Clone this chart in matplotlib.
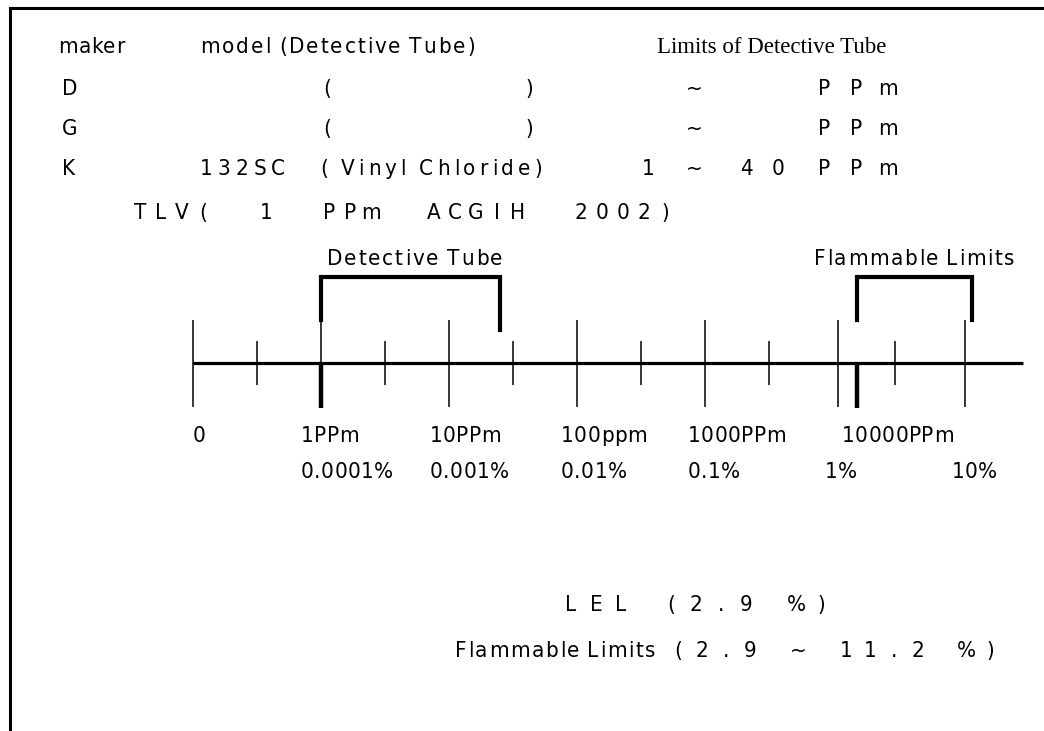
import matplotlib
matplotlib.use("Agg")
import matplotlib.pyplot as plt
from matplotlib.lines import Line2D

matplotlib.rcParams['font.family'] = ['DejaVu Sans']
matplotlib.rcParams['font.stretch'] = 'condensed'
matplotlib.rcParams['font.size'] = 16

W, H = 1044, 731
SPACE = 5  # px given to a blank inside spread-out text

# scale positions, log10(ppm); "0" is drawn one decade below 1 ppm
majorTicks = [-1.0, 0.0, 1.0, 2.0, 3.0, 4.04, 5.03]
halfTicks = [-0.5, 0.5, 1.5, 2.5, 3.5, 4.49]
scaleEnd = 5.49
ppmLabels = ["0", "1PPm", "10PPm", "100ppm", "1000PPm", "10000PPm"]
percentLabels = ["0.0001%", "0.001%", "0.01%", "0.1%", "1%", "10%"]
tlv = 0.0
lel = 4.19
detectiveRange = (0.0, 1.4)
flammableRange = (4.19, 5.09)

# tick label layout: pixel offset from the tick and pixel width of each label
ppmDx = [0, -20, -19, -16, -17, 4]
ppmWidth = [10, 51, 63, 73, 87, 96]
percentDx = [-20, -19, -16, -17, -13, -13]
percentWidth = [87, 74, 58, 46, 22, 36]

fig = plt.figure(figsize=(W / 100, H / 100), dpi=100)
renderer = fig.canvas.get_renderer()


def figText(x, y, s, ha='left', **kw):
    return fig.text(x / W, 1 - y / H, s, va='baseline', ha=ha, **kw)


def spread(x0, x1, y, s, **kw):
    # letter-spaced text running from x0 to about x1 (pixels)
    arts, widths = [], []
    for ch in s:
        if ch == " ":
            arts.append(None)
            widths.append(SPACE)
        else:
            t = figText(0, y, ch, **kw)
            arts.append(t)
            widths.append(t.get_window_extent(renderer).width)
    gap = max((x1 - x0 - sum(widths)) / max(len(s) - 1, 1), 0.5)
    x = x0
    for t, w in zip(arts, widths):
        if t is not None:
            t.set_x(x / W)
        x += w + gap


def cells(x0, y, s, pitch):
    # spaced-out text: one character per cell
    for i, ch in enumerate(s):
        if ch != " ":
            figText(x0 + i * pitch, y, ch, ha='center')


ax = fig.add_axes([0, 0, 1, 1])
ax.set_xlim(-320.7 / 128, (W - 320.7) / 128)
ax.set_ylim(H, 0)
ax.axis('off')

# frame (top and left only)
fig.add_artist(Line2D([10 / W, 10 / W], [0, 1 - 8 / H], color='black', lw=2.2))
fig.add_artist(Line2D([10 / W, 1], [1 - 8 / H, 1 - 8 / H], color='black', lw=2.2))

# header table
spread(58, 120, 53, "maker")
spread(200, 475, 53, "model (Detective Tube)")
figText(657, 53, "Limits of Detective Tube", family='Liberation Serif', stretch='normal', fontsize=16.5)
for y, maker in [(95, "D"), (135, "G")]:
    figText(62, y, maker)
    figText(323, y, "(")
    figText(525, y, ")")
    figText(694, y, "~", ha='center')
    cells(824, y, "PPm", 32)
figText(62, 175, "K")
cells(206, 175, "132SC", 18)
spread(320, 542, 175, "( Vinyl Chloride)")
figText(648, 175, "1", ha='center')
figText(694, 175, "~", ha='center')
cells(746, 175, "40", 32)
cells(824, 175, "PPm", 32)
cells(140, 219, "TLV(  1  PPm  ACGIH  2002)", 21)

# scale
axisY = 363.3
ax.plot([majorTicks[0], scaleEnd], [axisY, axisY], color='black', lw=2.3, solid_capstyle='butt')
ax.vlines(majorTicks, 320, 406.7, color='black', lw=1.1)
ax.vlines(halfTicks, 341, 385.3, color='black', lw=1.1)
ax.vlines([tlv, lel], axisY, 408, color='black', lw=3.2)

# range brackets
lo, hi = detectiveRange
ax.plot([lo, lo, hi, hi], [320, 276.7, 276.7, 330], color='black', lw=3.0, solid_joinstyle='miter')
x = ax.transData.transform((lo, 0))[0] + 6
spread(x, x + 176, 265, "Detective Tube")
lo, hi = flammableRange
ax.plot([lo, lo, hi, hi], [320, 276.7, 276.7, 320], color='black', lw=3.0, solid_joinstyle='miter')
x = ax.transData.transform((lo, 0))[0] - 43
spread(x, x + 200, 265, "Flammable Limits")

for tick, label, dx, w in zip(majorTicks[:6], ppmLabels, ppmDx, ppmWidth):
    x = ax.transData.transform((tick, 0))[0] + dx
    spread(x, x + w, 441.7, label)
for tick, label, dx, w in zip(majorTicks[1:], percentLabels, percentDx, percentWidth):
    x = ax.transData.transform((tick, 0))[0] + dx
    spread(x, x + w, 478.3, label)

cells(571, 611, "LEL (2.9 %)", 25)
spread(455, 655, 657, "Flammable Limits")
cells(678, 657, "(2.9 ~ 11.2 %)", 24)

fig.savefig("out.png", dpi=100, facecolor='white')
